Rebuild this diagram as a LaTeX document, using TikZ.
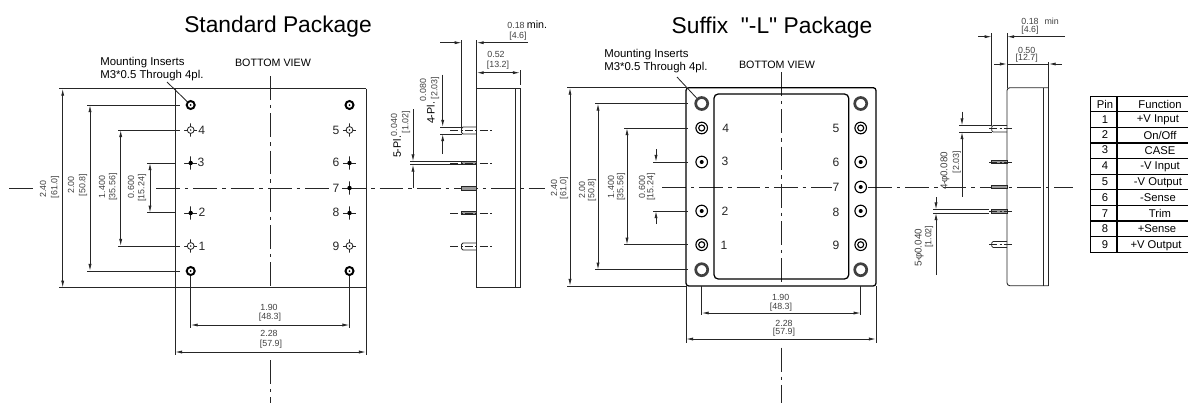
\documentclass[tikz,border=0pt]{standalone}
\usepackage{fontspec}
\setmainfont{Liberation Sans}
\newfontfamily\straightfont{Liberation Sans}
\usetikzlibrary{arrows.meta}
\tikzset{
  titletext/.style={inner sep=0pt, font=\straightfont\fontsize{16.2}{18}\selectfont},
  notetext/.style={inner sep=0pt, align=left, anchor=west, font=\fontsize{8.1}{9.3}\selectfont},
  viewtext/.style={inner sep=0pt, font=\fontsize{7.6}{9}\selectfont},
  dimtext/.style={inner sep=0pt, text=black!75, font=\fontsize{6.3}{7}\selectfont},
  pltext/.style={inner sep=0pt, rotate=90, font=\fontsize{7.6}{9}\selectfont},
  pinlabel/.style={inner sep=0.6pt, text=black!85, font=\fontsize{8.6}{10}\selectfont},
  celltext/.style={inner sep=0pt, font=\fontsize{8}{9}\selectfont},
  drawline/.style={draw=black!85, line width=0.6pt},
  heavyline/.style={draw=black, line width=0.9pt},
  centerline/.style={draw=black!85, line width=0.6pt, dash pattern=on 17pt off 3.5pt on 2.5pt off 3.5pt},
  pinaxis/.style={draw=black!85, line width=0.5pt, dash pattern=on 6pt off 1.5pt on 1.5pt off 1.5pt},
  dimline/.style={draw=black!85, line width=0.6pt, {Latex[length=5pt,width=2.2pt]}-{Latex[length=5pt,width=2.2pt]}},
  dimin/.style={draw=black!85, line width=0.6pt, -{Latex[length=5pt,width=2.2pt]}},
  crossmark/.style={circle, inner sep=0pt, minimum size=0.33cm, path picture={
    \draw[black!85, line width=0.5pt] (path picture bounding box.center) ++(-0.165cm,0) -- ++(0.09cm,0);
    \draw[black!85, line width=0.5pt] (path picture bounding box.center) ++(0.165cm,0) -- ++(-0.09cm,0);
    \draw[black!85, line width=0.5pt] (path picture bounding box.center) ++(0,-0.165cm) -- ++(0,0.09cm);
    \draw[black!85, line width=0.5pt] (path picture bounding box.center) ++(0,0.165cm) -- ++(0,-0.09cm);
    \draw[black!85, line width=0.6pt] (path picture bounding box.center) circle (0.085cm);
    \fill[black!90] (path picture bounding box.center) circle (0.02cm);}},
  crossdot/.style={circle, inner sep=0pt, minimum size=0.33cm, path picture={
    \draw[black!85, line width=0.5pt] (path picture bounding box.center) ++(-0.165cm,0) -- ++(0.33cm,0);
    \draw[black!85, line width=0.5pt] (path picture bounding box.center) ++(0,-0.165cm) -- ++(0,0.33cm);
    \fill[black] (path picture bounding box.center) circle (0.055cm);}},
  mounthole/.style={circle, fill=white, draw=black, line width=1.4pt, inner sep=0pt, minimum size=0.2cm, path picture={
    \fill[black] (path picture bounding box.center) circle (0.025cm);}},
  bigmount/.style={circle, fill=white, draw=black!75, line width=1.9pt, inner sep=0pt, minimum size=0.3cm},
  ringhole/.style={circle, fill=white, draw=black, line width=0.8pt, inner sep=0pt, minimum size=0.29cm, path picture={
    \draw[black, line width=0.8pt] (path picture bounding box.center) circle (0.075cm);}},
  dothole/.style={circle, fill=white, draw=black, line width=0.8pt, inner sep=0pt, minimum size=0.29cm, path picture={
    \fill[black] (path picture bounding box.center) circle (0.05cm);}},
}
\begin{document}
\begin{tikzpicture}[x=0.025cm, y=-0.025cm]
\useasboundingbox (0,0) rectangle (1188,403);
% standard package, bottom view
\node[titletext] (G1Title) at (278,27) {Standard Package};
\node[notetext] (G1Note) at (100,69.5) {Mounting Inserts\\M3*0.5 Through 4pl.};
\node[viewtext] (G1View) at (273,63) {BOTTOM VIEW};
\draw[drawline] (59,88.7) -- (366,88.7);
\draw[drawline] (59,287.7) -- (366,287.7);
\draw[drawline] (175,88.7) -- (175,355);
\draw[drawline] (366,88.7) -- (366,355);
\draw[centerline] (9,188) -- (37,188);
\draw[centerline] (156,188) -- (545,188);
\draw[centerline] (270,76) -- (270,288);
\draw[centerline] (270,360) -- (270,403);
\draw[drawline] (87,105) -- (180,105);
\draw[drawline] (87,271) -- (180,271);
\draw[drawline] (118,130) -- (180,130);
\draw[drawline] (118,246) -- (180,246);
\draw[drawline] (147,163) -- (175,163);
\draw[drawline] (147,212.7) -- (175,212.7);
\draw[dimline] (62.7,88.7) -- (62.7,287.7);
\draw[dimline] (90,105) -- (90,271);
\draw[dimline] (120.7,130) -- (120.7,246);
\draw[dimline] (150,163) -- (150,212.7);
\node[dimtext, rotate=90] (G1D1a) at (43,189) {2.40};
\node[dimtext, rotate=90] (G1D1b) at (55,187) {[61.0]};
\node[dimtext, rotate=90] (G1D2a) at (71,185) {2.00};
\node[dimtext, rotate=90] (G1D2b) at (83,185) {[50.8]};
\node[dimtext, rotate=90] (G1D3a) at (102,187) {1.400};
\node[dimtext, rotate=90] (G1D3b) at (113,187) {[35.56]};
\node[dimtext, rotate=90] (G1D4a) at (131,187) {0.600};
\node[dimtext, rotate=90] (G1D4b) at (142,188) {[15.24]};
\node[mounthole] (G1NA) at (190.7,105) {};
\node[mounthole] (G1NB) at (349.5,105) {};
\node[mounthole] (G1NC) at (190.7,271) {};
\node[mounthole] (G1ND) at (349.5,271) {};
\draw[drawline] (167,82) -- (G1NA);
\node[crossmark] (G1N4) at (190.7,130) {};
\node[crossdot] (G1N3) at (190.7,163) {};
\node[crossdot] (G1N2) at (190.7,213) {};
\node[crossmark] (G1N1) at (190.7,246) {};
\node[crossmark] (G1N5) at (349.5,130) {};
\node[crossdot] (G1N6) at (349.5,163) {};
\node[crossdot] (G1N7) at (349.5,188) {};
\node[crossdot] (G1N8) at (349.5,213) {};
\node[crossmark] (G1N9) at (349.5,246) {};
\node[pinlabel] (G1L4) at (201.7,130) {4};
\node[pinlabel] (G1L3) at (201,162) {3};
\node[pinlabel] (G1L2) at (202,212) {2};
\node[pinlabel] (G1L1) at (202,246) {1};
\node[pinlabel] (G1L5) at (336,130) {5};
\node[pinlabel] (G1L6) at (336,162) {6};
\node[pinlabel, fill=white] (G1L7) at (336,188) {7};
\node[pinlabel] (G1L8) at (336,212) {8};
\node[pinlabel] (G1L9) at (336,246) {9};
\draw[drawline] (G1NC) -- (190.7,327.5);
\draw[drawline] (G1ND) -- (349.5,327.5);
\draw[dimline] (190.7,325) -- (349.5,325);
\draw[dimline] (175,352) -- (366,352);
\node[dimtext] (G1D5a) at (269,307) {1.90};
\node[dimtext] (G1D5b) at (270,317) {[48.3]};
\node[dimtext] (G1D6a) at (269,333) {2.28};
\node[dimtext] (G1D6b) at (271,344) {[57.9]};
% standard package, side view
\draw[drawline] (476.7,88.5) rectangle (520,287.7);
\draw[drawline] (515.7,88.5) -- (515.7,287.7);
\draw[drawline] (476.7,40) -- (476.7,88.5);
\draw[drawline] (461.7,40) -- (461.7,127);
\draw[drawline] (520,70) -- (520,85);
\draw[dimin] (440,42.7) -- (461.7,42.7);
\draw[dimin] (528,42.7) -- (476.7,42.7);
\draw[dimline] (476.7,72.7) -- (520,72.7);
\node[dimtext] (G1D7a) at (516,25) {0.18};
\node[viewtext] (G1D7c) at (537,25) {min.};
\node[dimtext] (G1D7b) at (518,36) {[4.6]};
\node[dimtext] (G1D8a) at (496,54) {0.52};
\node[dimtext] (G1D8b) at (498,65) {[13.2]};
\draw[drawline, rounded corners=1pt] (476.7,127) -- (461.5,127) -- (461.5,134) -- (476.7,134);
\draw[drawline, fill=black!40] (476.7,161.5) rectangle (461.5,164.5);
\draw[drawline, fill=black!40] (476.7,186.5) rectangle (461.5,190);
\draw[drawline, fill=black!40] (476.7,211.5) rectangle (461.5,214.5);
\draw[drawline, rounded corners=1pt] (476.7,243) -- (461.5,243) -- (461.5,250) -- (476.7,250);
\draw[pinaxis] (450,130) -- (492.5,130);
\draw[pinaxis] (450,163) -- (492.5,163);
\draw[pinaxis] (450,213) -- (492.5,213);
\draw[pinaxis] (450,246) -- (492.5,246);
\draw[drawline] (440,127) -- (461.5,127);
\draw[drawline] (440,134) -- (461.5,134);
\draw[drawline] (410,161.5) -- (461.5,161.5);
\draw[drawline] (410,164.5) -- (461.5,164.5);
\draw[dimin] (442.7,74.7) -- (442.7,127);
\draw[dimin] (442.7,154) -- (442.7,134);
\draw[dimin] (413,109) -- (413,161.5);
\draw[dimin] (413,188) -- (413,164.5);
\node[pltext] (G1P4) at (430.7,113) {4-Pl.};
\node[dimtext, rotate=90] (G1P4a) at (423,90) {0.080};
\node[dimtext, rotate=90] (G1P4b) at (435,88) {[2.03]};
\node[pltext] (G1P5) at (397,147) {5-Pl.};
\node[dimtext, rotate=90] (G1P5a) at (394,125) {0.040};
\node[dimtext, rotate=90] (G1P5b) at (406,122) {[1.02]};
% suffix -L package, bottom view
\node[titletext] (G2Title) at (772,28) {Suffix \ "-L" Package};
\node[notetext] (G2Note) at (604,61.5) {Mounting Inserts\\M3*0.5 Through 4pl.};
\node[viewtext] (G2View) at (777,65) {BOTTOM VIEW};
\draw[centerline] (662,187) -- (833,187);
\draw[centerline] (868,187) -- (1073,187);
\draw[centerline] (781,72) -- (781,286);
\draw[centerline] (781,347.7) -- (781,403);
\draw[heavyline, rounded corners=2pt] (686,87.7) rectangle (876,286);
\draw[heavyline, rounded corners=3pt] (714,94) rectangle (848.7,279);
\draw[drawline] (567,87.7) -- (686,87.7);
\draw[drawline] (567,286) -- (686,286);
\draw[drawline] (595,103.5) -- (688,103.5);
\draw[drawline] (595,269.7) -- (688,269.7);
\draw[drawline] (624,128) -- (688,128);
\draw[drawline] (624,244.7) -- (688,244.7);
\draw[drawline] (653,162) -- (688,162);
\draw[drawline] (653,211) -- (688,211);
\draw[dimline] (570,87.7) -- (570,286);
\draw[dimline] (598,103.5) -- (598,269.7);
\draw[dimline] (627,128) -- (627,244.7);
\draw[dimin] (656,149) -- (656,162);
\draw[dimin] (656,224) -- (656,211);
\node[dimtext, rotate=90] (G2D1a) at (554,188) {2.40};
\node[dimtext, rotate=90] (G2D1b) at (564,188) {[61.0]};
\node[dimtext, rotate=90] (G2D2a) at (582,190) {2.00};
\node[dimtext, rotate=90] (G2D2b) at (592,190) {[50.8]};
\node[dimtext, rotate=90] (G2D3a) at (611,187) {1.400};
\node[dimtext, rotate=90] (G2D3b) at (621,187) {[35.56]};
\node[dimtext, rotate=90] (G2D4a) at (642,187) {0.600};
\node[dimtext, rotate=90] (G2D4b) at (651,187) {[15.24]};
\node[bigmount] (G2NA) at (701.7,103.5) {};
\node[bigmount] (G2NB) at (860.7,103.5) {};
\node[bigmount] (G2NC) at (701.7,269.7) {};
\node[bigmount] (G2ND) at (860.7,269.7) {};
\draw[drawline] (677,77) -- (G2NA);
\node[ringhole] (G2N4) at (701.7,128) {};
\node[dothole] (G2N3) at (701.7,162) {};
\node[dothole] (G2N2) at (701.7,211) {};
\node[ringhole] (G2N1) at (701.7,244.7) {};
\node[ringhole] (G2N5) at (860.7,128) {};
\node[dothole] (G2N6) at (860.7,162) {};
\node[dothole] (G2N7) at (860.7,187) {};
\node[dothole] (G2N8) at (860.7,211) {};
\node[ringhole] (G2N9) at (860.7,244.7) {};
\node[pinlabel] (G2L4) at (725.7,128) {4};
\node[pinlabel] (G2L3) at (725,161) {3};
\node[pinlabel] (G2L2) at (725,211) {2};
\node[pinlabel] (G2L1) at (724,245) {1};
\node[pinlabel] (G2L5) at (836,128) {5};
\node[pinlabel] (G2L6) at (836,162) {6};
\node[pinlabel, fill=white] (G2L7) at (836,187) {7};
\node[pinlabel] (G2L8) at (836,212) {8};
\node[pinlabel] (G2L9) at (836,245) {9};
\draw[drawline] (701.7,286) -- (701.7,315);
\draw[drawline] (860.7,286) -- (860.7,315);
\draw[drawline] (686,286) -- (686,343);
\draw[drawline] (876,286) -- (876,343);
\draw[dimline] (701.7,313) -- (860.7,313);
\draw[dimline] (686,339) -- (876,339);
\node[dimtext] (G2D5a) at (780.7,297.7) {1.90};
\node[dimtext] (G2D5b) at (781,307) {[48.3]};
\node[dimtext] (G2D6a) at (784,323) {2.28};
\node[dimtext] (G2D6b) at (784,332) {[57.9]};
% suffix -L package, side view
\draw[drawline, rounded corners=2pt] (1048.7,87.7) -- (1007,87.7) -- (1007,285.7) -- (1048.7,285.7);
\draw[drawline] (1048.7,84) -- (1048.7,285.7);
\draw[drawline] (1043.7,87.7) -- (1043.7,285.7);
\draw[drawline] (1007,33) -- (1007,87.7);
\draw[drawline] (991.7,33) -- (991.7,126);
\draw[drawline] (1048.7,62) -- (1048.7,84);
\draw[dimin] (978,36.7) -- (991.7,36.7);
\draw[dimin] (1065,36.7) -- (1007,36.7);
\draw[dimin] (994,64) -- (1007,64);
\draw[dimin] (1061.7,64) -- (1048.7,64);
\draw[drawline] (1007,64) -- (1048.7,64);
\node[dimtext] (G2D7a) at (1030,21) {0.18};
\node[dimtext] (G2D7c) at (1051.7,21) {min};
\node[dimtext] (G2D7b) at (1030,30) {[4.6]};
\node[dimtext] (G2D8a) at (1026.7,50) {0.50};
\node[dimtext] (G2D8b) at (1026.7,58) {[12.7]};
\draw[drawline, rounded corners=1pt] (1007,125.5) -- (991.7,125.5) -- (991.7,132) -- (1007,132);
\draw[drawline, fill=black!40] (1007,160.5) rectangle (991.7,163.5);
\draw[drawline, fill=black!40] (1007,185) rectangle (991.7,188.5);
\draw[drawline, fill=black!40] (1007,209.5) rectangle (991.7,213);
\draw[drawline, rounded corners=1pt] (1007,241.5) -- (991.7,241.5) -- (991.7,247.5) -- (1007,247.5);
\draw[pinaxis] (989,128) -- (1013,128);
\draw[pinaxis] (989,162) -- (1013,162);
\draw[pinaxis] (989,211.3) -- (1013,211.3);
\draw[pinaxis] (989,244.7) -- (1013,244.7);
\draw[drawline] (959,125.5) -- (991.7,125.5);
\draw[drawline] (959,132) -- (991.7,132);
\draw[drawline] (933,209.5) -- (989,209.5);
\draw[drawline] (933,213) -- (989,213);
\draw[dimin] (962,111.7) -- (962,125.5);
\draw[dimin] (962,196.7) -- (962,132);
\draw[dimin] (936,197) -- (936,209.5);
\draw[dimin] (936,275) -- (936,213);
\node[dimtext, rotate=90, font=\fontsize{7}{8}\selectfont] (G2P4) at (945,171) {4-\kern-0.8pt φ\kern-0.5pt 0.080};
\node[dimtext, rotate=90] (G2P4b) at (956.7,162) {[2.03]};
\node[dimtext, rotate=90, font=\fontsize{7}{8}\selectfont] (G2P5) at (919.3,248) {5-\kern-0.8pt φ\kern-0.5pt 0.040};
\node[dimtext, rotate=90] (G2P5b) at (929,236.7) {[1.02]};
% pin table
\draw[heavyline] (1188,96.3) -- (1090.7,96.3) -- (1090.7,252.3) -- (1188,252.3);
\draw[heavyline] (1117,96.3) -- (1117,252.3);
\draw[heavyline] (1090.7,111.3) -- (1188,111.3);
\draw[heavyline] (1090.7,127.3) -- (1188,127.3);
\draw[heavyline] (1090.7,143) -- (1188,143);
\draw[heavyline] (1090.7,158.5) -- (1188,158.5);
\draw[heavyline] (1090.7,174.3) -- (1188,174.3);
\draw[heavyline] (1090.7,189.7) -- (1188,189.7);
\draw[heavyline] (1090.7,205.3) -- (1188,205.3);
\draw[heavyline] (1090.7,221) -- (1188,221);
\draw[heavyline] (1090.7,236.7) -- (1188,236.7);
\node[celltext] (T0P) at (1105,104) {Pin};
\node[celltext] (T0F) at (1160,104) {Function};
\node[celltext] (T1P) at (1105,120) {1};
\node[celltext] (T1F) at (1158,120) {+V Input};
\node[celltext] (T2P) at (1105,135) {2};
\node[celltext] (T2F) at (1160,135.5) {On/Off};
\node[celltext] (T3P) at (1105,150) {3};
\node[celltext] (T3F) at (1160,151) {CASE};
\node[celltext] (T4P) at (1105,166) {4};
\node[celltext] (T4F) at (1160,167) {-V Input};
\node[celltext] (T5P) at (1105,182) {5};
\node[celltext] (T5F) at (1158,183) {-V Output};
\node[celltext] (T6P) at (1105,197.5) {6};
\node[celltext] (T6F) at (1158,198) {-Sense};
\node[celltext] (T7P) at (1105,214) {7};
\node[celltext] (T7F) at (1160,213) {Trim};
\node[celltext] (T8P) at (1105,228.5) {8};
\node[celltext] (T8F) at (1157,229) {+Sense};
\node[celltext] (T9P) at (1105,245) {9};
\node[celltext] (T9F) at (1156,245.5) {+V Output};
\end{tikzpicture}
\end{document}
